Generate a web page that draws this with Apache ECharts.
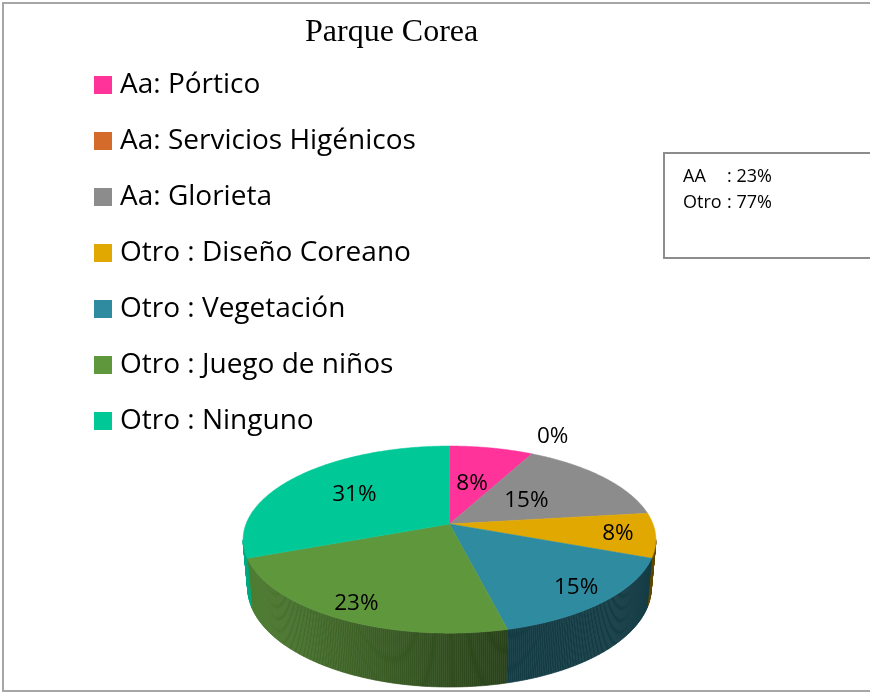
<!DOCTYPE html>
<html>
<head>
<meta charset="utf-8">
<script src="https://cdn.jsdelivr.net/npm/echarts@6/dist/echarts.min.js"></script>
<style>
  html, body { margin: 0; padding: 0; background: #fff; }
  #chart { width: 870px; height: 693px; }
</style>
</head>
<body>
<div id="chart"></div>
<script>
// Survey answers for "Parque Corea"
const chartTitle = 'Parque Corea';
const categories = [
  'Aa: Pórtico',
  'Aa: Servicios Higénicos',
  'Aa: Glorieta',
  'Otro : Diseño Coreano',
  'Otro : Vegetación',
  'Otro : Juego de niños',
  'Otro : Ninguno'
];
const counts = [1, 0, 2, 1, 2, 3, 4];
// which answers belong to the "AA" group (the rest are "Otro")
const aaGroup = [true, true, true, false, false, false, false];
const summaryNames = ['AA', 'Otro'];

// styling
const sliceColors = ['#FF3399', '#D46B2A', '#8C8C8C', '#E0A800', '#2E8BA0', '#5F973C', '#00C896'];
const labelRadius = [0.5, 1.3, 0.48, 0.82, 0.84, 0.86, 0.6];
const textFont = '"Open Sans", Lato, sans-serif';

const total = counts.reduce((a, b) => a + b, 0);
const pct = v => Math.round(v / total * 100);
const aaTotal = counts.reduce((s, v, i) => s + (aaGroup[i] ? v : 0), 0);
const summaryValues = [pct(aaTotal), 100 - pct(aaTotal)];

// slice angles, clockwise from 12 o'clock
const startAngle = [], endAngle = [];
{
  let acc = 0;
  counts.forEach(v => {
    startAngle.push(acc / total * Math.PI * 2);
    acc += v;
    endAngle.push(acc / total * Math.PI * 2);
  });
}

// perspective view of the disc
const VIEW = { cx: 449.5, cy: 524, F: 1092, D: 5.366, tilt: Math.asin(0.447), H: 0.2666 };
const sa = Math.sin(VIEW.tilt), ca = Math.cos(VIEW.tilt);
function project(phi, r, h) {
  const X = r * Math.sin(phi), Zd = r * Math.cos(phi);
  const z = VIEW.D + Zd * ca - h * sa;
  const yc = Zd * sa + h * ca;
  return [VIEW.cx + VIEW.F * X / z, VIEW.cy - VIEW.F * yc / z];
}
// visible side wall range (front half up to the silhouette)
const delta = Math.asin(ca / VIEW.D);
const WALL_MIN = Math.PI / 2 + delta, WALL_MAX = 1.5 * Math.PI - delta;

function shade(hex, f) {
  const n = parseInt(hex.slice(1), 16);
  const c = [(n >> 16) & 255, (n >> 8) & 255, n & 255].map(v => Math.round(v * f));
  return 'rgb(' + c.join(',') + ')';
}
function wallFactor(phi) {
  const t = Math.min(1, Math.max(0, (-Math.sin(phi) + 0.25) / 1.25));
  return 0.43 + 0.42 * t;
}

function renderWall(params, api) {
  const i = params.dataIndex;
  const lo = Math.max(startAngle[i], WALL_MIN), hi = Math.min(endAngle[i], WALL_MAX);
  if (api.value(0) <= 0 || hi <= lo) return null;
  const children = [];
  const step = Math.PI / 360;
  for (let a = lo; a < hi; a += step) {
    const b = Math.min(hi, a + step);
    const col = shade(sliceColors[i], wallFactor((a + b) / 2));
    children.push({
      type: 'polygon',
      shape: { points: [project(a, 1, 0), project(b, 1, 0), project(b, 1, -VIEW.H), project(a, 1, -VIEW.H)] },
      style: { fill: col, stroke: col, lineWidth: 0.6 }
    });
  }
  return { type: 'group', children };
}

function renderTop(params, api) {
  const i = params.dataIndex;
  const children = [];
  if (api.value(0) > 0) {
    const pts = [project(0, 0, 0)];
    const a0 = startAngle[i], a1 = endAngle[i];
    const n = Math.max(2, Math.ceil((a1 - a0) / (Math.PI / 360)));
    for (let k = 0; k <= n; k++) pts.push(project(a0 + (a1 - a0) * k / n, 1, 0));
    children.push({
      type: 'polygon',
      shape: { points: pts },
      style: { fill: sliceColors[i], stroke: sliceColors[i], lineWidth: 0.5 }
    });
  }
  const mid = (startAngle[i] + endAngle[i]) / 2;
  const p = project(mid, labelRadius[i], 0);
  children.push({
    type: 'text',
    z2: 10,
    style: {
      text: pct(api.value(0)) + '%',
      x: p[0], y: p[1],
      align: 'center', verticalAlign: 'middle',
      font: '22.5px ' + textFont,
      fill: '#000'
    }
  });
  return { type: 'group', children };
}

const chart = echarts.init(document.getElementById('chart'), null, { renderer: 'canvas' });
chart.setOption({
  animation: false,
  backgroundColor: '#fff',
  title: {
    text: chartTitle,
    left: 300, top: 10,
    textStyle: { fontFamily: '"Liberation Serif", "DejaVu Serif", serif', fontSize: 32, fontWeight: 'normal', color: '#000', lineHeight: 36 }
  },
  legend: {
    orient: 'vertical',
    left: 94, top: 69,
    padding: 0,
    icon: 'rect',
    itemWidth: 18, itemHeight: 18,
    itemGap: 24,
    selectedMode: false,
    data: categories,
    textStyle: { fontFamily: textFont, fontSize: 28, color: '#000', lineHeight: 32, padding: [0, 0, 0, 3] }
  },
  graphic: [
    { type: 'rect', z: -1, shape: { x: 3, y: 3, width: 900, height: 688 }, style: { fill: 'none', stroke: '#a6a6a6', lineWidth: 2 } },
    { type: 'rect', shape: { x: 664, y: 153, width: 240, height: 105 }, style: { fill: '#fff', stroke: '#8c8c8c', lineWidth: 2 } },
    { type: 'text', style: { text: summaryNames[0], x: 683, y: 177, verticalAlign: 'middle', font: '18px ' + textFont, fill: '#000' } },
    { type: 'text', style: { text: ': ' + summaryValues[0] + '%', x: 727, y: 177, verticalAlign: 'middle', font: '18px ' + textFont, fill: '#000' } },
    { type: 'text', style: { text: summaryNames[1], x: 683, y: 203, verticalAlign: 'middle', font: '18px ' + textFont, fill: '#000' } },
    { type: 'text', style: { text: ': ' + summaryValues[1] + '%', x: 727, y: 203, verticalAlign: 'middle', font: '18px ' + textFont, fill: '#000' } }
  ],
  series: [
    {
      // legend source (tiny, sits under the disc)
      type: 'pie',
      z: 1,
      silent: true,
      center: [VIEW.cx, VIEW.cy],
      radius: [0, 0.5],
      label: { show: false },
      labelLine: { show: false },
      data: categories.map((name, i) => ({ name, value: counts[i], itemStyle: { color: sliceColors[i] } }))
    },
    {
      type: 'custom',
      name: 'walls',
      z: 2,
      coordinateSystem: 'none',
      silent: true,
      renderItem: renderWall,
      data: counts
    },
    {
      type: 'custom',
      name: 'tops',
      z: 3,
      coordinateSystem: 'none',
      silent: true,
      renderItem: renderTop,
      data: counts
    }
  ]
});
</script>
</body>
</html>
